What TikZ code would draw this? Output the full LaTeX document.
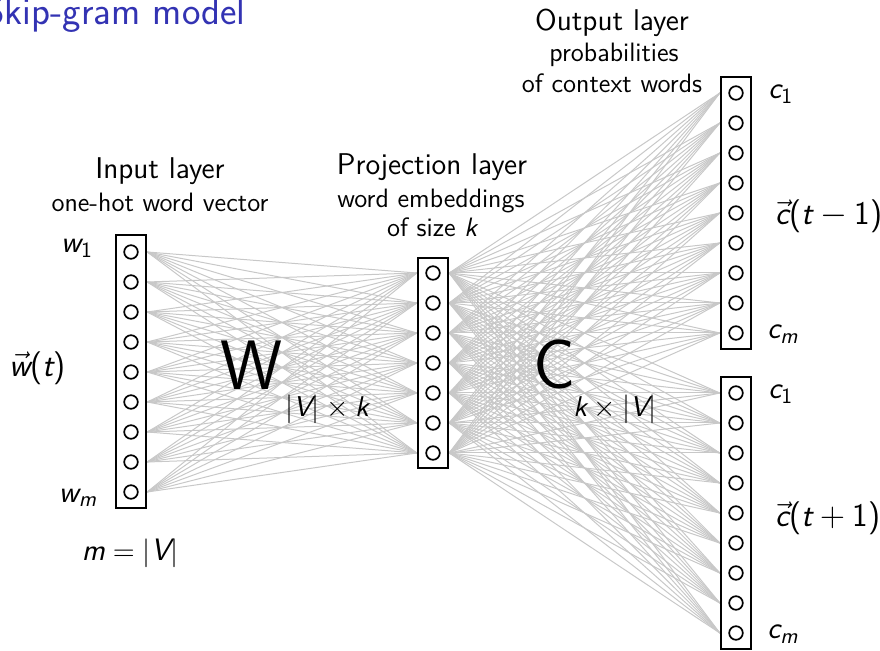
\documentclass[tikz,border=0pt]{standalone}
\usepackage{amsmath}
\usepackage{fontspec}
\usetikzlibrary{backgrounds}
\definecolor{titleblue}{RGB}{51,51,179}
\definecolor{conngray}{RGB}{200,200,200}
\newcommand\sv[1]{\text{\sffamily\slshape #1}}
\newcommand\su[1]{\text{\sffamily\upshape #1}}
\tikzset{
  layerbox/.style={draw=black, line width=1.2pt, minimum width=15pt, inner sep=0pt, fill=white},
  neuron/.style={draw=black, circle, line width=0.85pt, minimum size=6.8pt, inner sep=0pt},
  conn/.style={draw=conngray, line width=0.5pt},
  headtext/.style={font=\fontsize{15}{17}\sffamily, anchor=base, inner sep=0pt},
  subtext/.style={font=\fontsize{13.3}{15}\sffamily, anchor=base, inner sep=0pt},
  mathlabel/.style={font=\fontsize{15.5}{17}\sffamily, inner sep=0pt},
  veclabel/.style={font=\fontsize{16.5}{19}\sffamily, inner sep=0pt, anchor=west},
  eqlabel/.style={font=\fontsize{15.5}{18}\sffamily, inner sep=0pt},
  bigletter/.style={font=\fontsize{35}{40}\sffamily, inner sep=0pt},
  dimlabel/.style={font=\fontsize{14.3}{16}\sffamily, inner sep=0pt},
  titletext/.style={font=\fontsize{19.6}{22}\sffamily, text=titleblue, anchor=base east, inner sep=0pt}
}
\begin{document}
\begin{tikzpicture}[x=0.5pt,y=-0.5pt]
\useasboundingbox (0,0) rectangle (880,651);

% title
\node[titletext] (title) at (246,25) {Skip-gram model};

% boxes
\node[layerbox, minimum height=136.5pt] (inbox) at (131,371.5) {};
\node[layerbox, minimum height=105pt] (prbox) at (433,363) {};
\node[layerbox, minimum height=136pt] (oabox) at (736,213) {};
\node[layerbox, minimum height=136pt] (obbox) at (736,513) {};

% neurons
\foreach \i in {1,...,9} {
  \node[neuron] (in\i) at (131,{252+30*(\i-1)}) {};
  \node[neuron] (oa\i) at (736,{93+30*(\i-1)}) {};
  \node[neuron] (ob\i) at (736,{393+30*(\i-1)}) {};
}
\foreach \j in {1,...,7} {
  \node[neuron] (pr\j) at (433,{273+30*(\j-1)}) {};
}

% connections
\begin{scope}[on background layer]
\foreach \i in {1,...,9} {
  \foreach \j in {1,...,7} {
    \draw[conn] (in\i -| inbox.east) -- (pr\j -| prbox.west);
  }
}
\foreach \j in {1,...,7} {
  \foreach \k in {1,...,9} {
    \draw[conn] (pr\j -| prbox.east) -- (oa\k -| oabox.west);
    \draw[conn] (pr\j -| prbox.east) -- (ob\k -| obbox.west);
  }
}
\end{scope}

% layer headings
\node[headtext] (inhead) at (160,179) {Input layer};
\node[subtext] (insub) at (160,212) {one-hot word vector};
\node[headtext] (prhead) at (432,175) {Projection layer};
\node[subtext] (prsub1) at (431,208) {word embeddings};
\node[subtext] (prsub2) at (432,237) {of size $\sv{k}$};
\node[headtext] (outhead) at (612,31) {Output layer};
\node[subtext] (outsub1) at (614,62) {probabilities};
\node[subtext] (outsub2) at (612,93) {of context words};

% input labels
\node[mathlabel] (w1) at (77,248) {$\sv{w}_{\su{1}}$};
\node[mathlabel] (wm) at (78,498) {$\sv{w}_{\sv{m}}$};
\node[veclabel] (wt) at (9,368) {$\vec{\sv{w}}\su{(}\sv{t}\su{)}$};
\node[eqlabel] (mv) at (130,553) {$\sv{m} = |\sv{V}|$};

% matrices
\node[bigletter] (W) at (252,365) {W};
\node[dimlabel] (Wdim) at (327,409) {$|\sv{V}| \times \sv{k}$};
\node[bigletter] (C) at (555,364) {C};
\node[dimlabel] (Cdim) at (615,409) {$\sv{k} \times |\sv{V}|$};

% output labels
\node[mathlabel, anchor=west] (c1a) at (768,94) {$\sv{c}_{\su{1}}$};
\node[mathlabel, anchor=west] (cma) at (767,334) {$\sv{c}_{\sv{m}}$};
\node[veclabel] (ct1) at (775,216) {$\vec{\sv{c}}\su{(}\sv{t} - \su{1}\su{)}$};
\node[mathlabel, anchor=west] (c1b) at (768,394) {$\sv{c}_{\su{1}}$};
\node[mathlabel, anchor=west] (cmb) at (767,634) {$\sv{c}_{\sv{m}}$};
\node[veclabel] (ct2) at (775,518) {$\vec{\sv{c}}\su{(}\sv{t} + \su{1}\su{)}$};
\end{tikzpicture}
\end{document}
